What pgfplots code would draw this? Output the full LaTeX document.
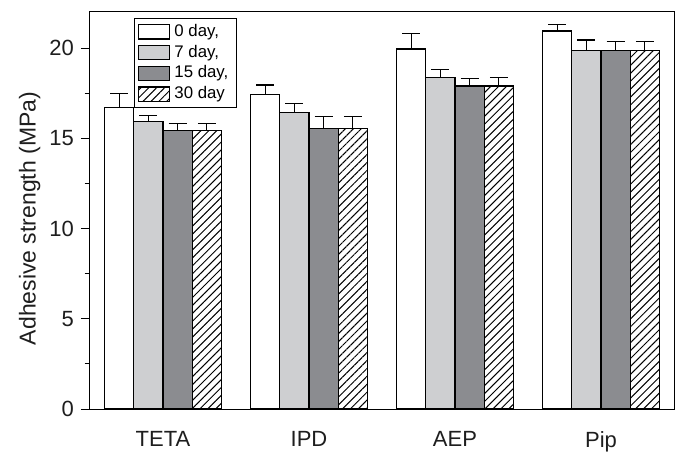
\documentclass[border=0pt]{standalone}
\usepackage{fontspec}
\setmainfont{Liberation Sans}
\usepackage{pgfplots}
\usepackage{pgfplotstable}
\pgfplotsset{compat=1.18}
\usetikzlibrary{patterns.meta}
\definecolor{lgray}{RGB}{206,207,209}
\definecolor{dgray}{RGB}{139,140,144}
\definecolor{txt}{RGB}{30,30,30}

\pgfplotstableread{
x y0 e0 y7 e7 y15 e15 y30 e30
0 16.7 0.8 15.95 0.3 15.45 0.35 15.45 0.35
1 17.45 0.5 16.45 0.5 15.55 0.65 15.55 0.65
2 19.95 0.85 18.35 0.45 17.9 0.4 17.9 0.45
3 20.95 0.35 19.85 0.6 19.85 0.5 19.85 0.5
}\data

\pgfplotsset{
  barbox/.style={
    legend image code/.code={\draw[##1, line width=0.6pt] (0pt,-3.6pt) rectangle (15.5pt,3.6pt);}
  },
}

\begin{document}
\begin{tikzpicture}
\begin{axis}[
  scale only axis,
  width=292pt, height=198.5pt,
  xmin=-0.5, xmax=3.5,
  ymin=0, ymax=22,
  ybar, bar width=0.2,
  axis line style={line width=0.5pt, black},
  xtick={0,1,2,3},
  xticklabels={TETA,IPD,AEP,Pip},
  major x tick style={draw=none},
  ytick={0,5,10,15,20},
  minor ytick={2.5,7.5,12.5,17.5},
  ytick pos=left,
  xtick pos=bottom,
  tick align=outside,
  major tick length=4.5pt,
  minor tick length=2.6pt,
  tick style={line width=0.5pt, black},
  /pgf/number format/assume math mode=true,
  tick label style={font=\fontsize{11}{13}\selectfont, text=txt},
  xticklabel style={yshift=-3pt},
  ylabel={Adhesive strength (MPa)},
  every axis y label/.style={at={(rel axis cs:-0.103,0.48)}, rotate=90, anchor=center, font=\fontsize{11.5}{13}\selectfont, text=txt},
  legend style={at={(rel axis cs:0.075,0.985)}, anchor=north west,
    draw=black, line width=0.5pt, font=\fontsize{8.4}{9}\selectfont,
    row sep=0pt, inner xsep=2pt, inner ysep=1.5pt,
    nodes={inner ysep=1.4pt, inner xsep=2pt}},
  legend cell align=left,
  clip=false,
  error bars/error bar style={line width=0.6pt, black},
  error bars/error mark options={rotate=90, mark size=4.5pt, line width=0.6pt, black},
]
\addplot[fill=white, draw=black, line width=0.6pt, bar shift=-0.3, barbox,
  error bars/.cd, y dir=plus, y explicit]
  table[x=x, y=y0, y error=e0] {\data};
\addlegendentry{0 day,}
\addplot[fill=lgray, draw=black, line width=0.6pt, bar shift=-0.1, barbox,
  error bars/.cd, y dir=plus, y explicit]
  table[x=x, y=y7, y error=e7] {\data};
\addlegendentry{7 day,}
\addplot[fill=dgray, draw=black, line width=0.6pt, bar shift=0.1, barbox,
  error bars/.cd, y dir=plus, y explicit]
  table[x=x, y=y15, y error=e15] {\data};
\addlegendentry{15 day,}
\addplot[pattern={Lines[angle=45, distance=2.8pt, line width=0.5pt]}, draw=black, line width=0.6pt, bar shift=0.3, barbox,
  error bars/.cd, y dir=plus, y explicit]
  table[x=x, y=y30, y error=e30] {\data};
\addlegendentry{30 day}
\path (rel axis cs:-0.154,-0.088) rectangle (rel axis cs:1.0068,1.0302);
\end{axis}
\end{tikzpicture}
\end{document}
